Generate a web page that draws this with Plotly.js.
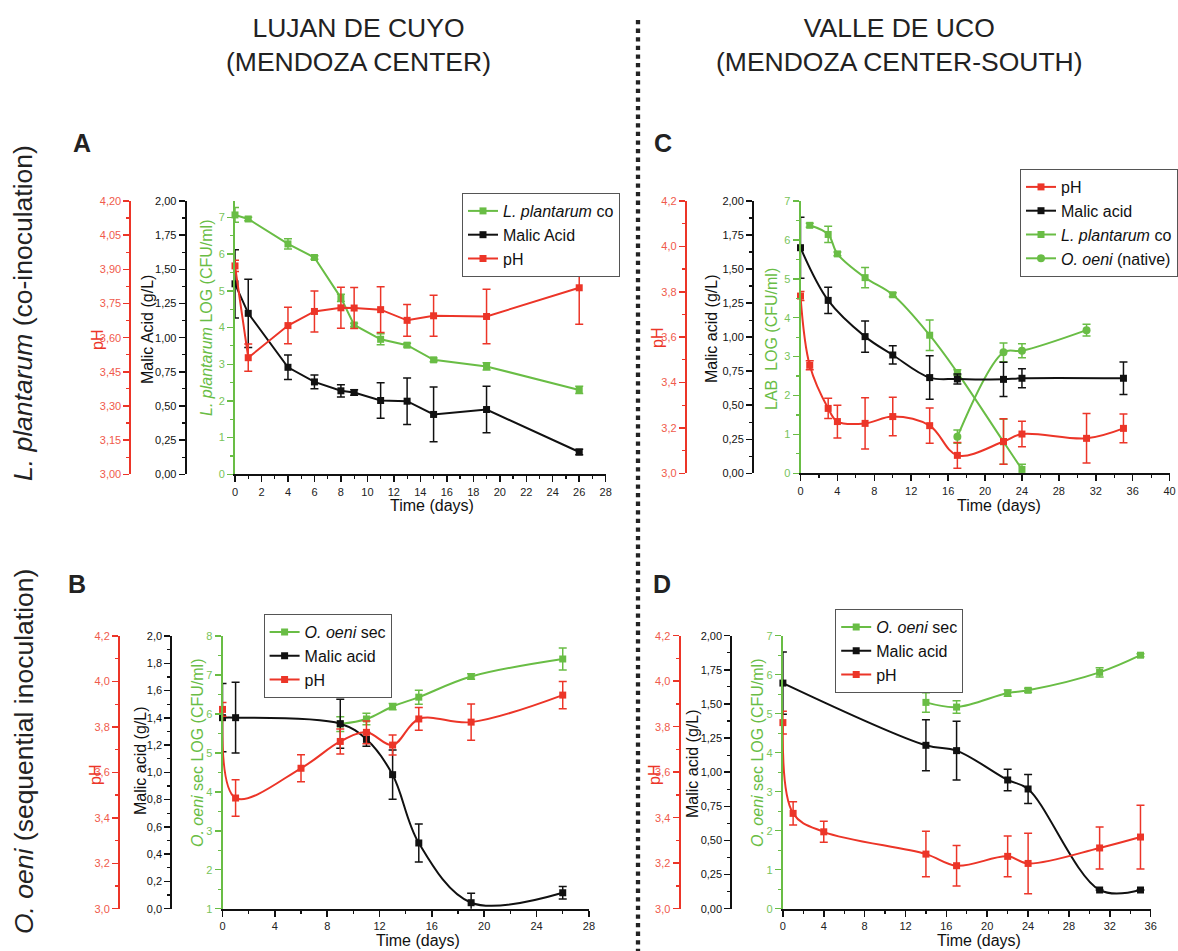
<!DOCTYPE html>
<html><head><meta charset="utf-8">
<script src="https://cdn.plot.ly/plotly-3.0.1.min.js"></script>
<style>html,body{margin:0;padding:0;background:#fff}#chart{width:1178px;height:951px}</style>
</head><body><div id="chart"></div>
<script>
// ---------------- DATA ----------------
// Panel A – Lujan de Cuyo, L. plantarum co-inoculation
const daysA = [0, 1, 4, 6, 8, 9, 11, 13, 15, 19, 26];
const lpA = [7.07, 6.96, 6.28, 5.91, 4.81, 4.07, 3.68, 3.52, 3.12, 2.94, 2.30];
const lpAErr = [0.2, 0.05, 0.14, 0.05, 0.1, 0.05, 0.15, 0.05, 0.05, 0.1, 0.1];
const malicA = [1.394, 1.178, 0.783, 0.676, 0.611, 0.599, 0.540, 0.535, 0.438, 0.474, 0.163];
const malicAErr = [0.25, 0.25, 0.09, 0.05, 0.045, 0.02, 0.13, 0.17, 0.2, 0.17, 0.02];
const phA = [3.915, 3.512, 3.653, 3.715, 3.731, 3.730, 3.723, 3.676, 3.696, 3.693, 3.819];
const phAErr = [0.025, 0.06, 0.08, 0.09, 0.09, 0.09, 0.1, 0.07, 0.09, 0.12, 0.16];

// Panel C – Valle de Uco, L. plantarum co-inoculation
const lpDaysC = [1, 3, 4, 7, 10, 14, 17, 22, 24];
const lpC = [6.375, 6.14, 5.64, 5.03, 4.59, 3.55, 2.59, 0.81, 0.10];
const lpCErr = [0.05, 0.21, 0.05, 0.26, 0.05, 0.39, 0.07, 0.58, 0.13];
const ooDaysC = [17, 22, 24, 31];
const ooC = [0.94, 3.11, 3.15, 3.68];
const ooCErr = [0.17, 0.24, 0.18, 0.15];
const malicDaysC = [0, 3, 7, 10, 14, 17, 22, 24, 35];
const malicC = [1.657, 1.27, 1.004, 0.869, 0.703, 0.693, 0.690, 0.698, 0.698];
const malicCErr = [0.224, 0.097, 0.115, 0.067, 0.16, 0.037, 0.125, 0.069, 0.12];
const phDaysC = [0, 1, 3, 4, 7, 10, 14, 17, 22, 24, 31, 35];
const phC = [3.781, 3.476, 3.286, 3.228, 3.22, 3.25, 3.21, 3.079, 3.14, 3.173, 3.154, 3.198];
const phCErr = [0.02, 0.02, 0.045, 0.072, 0.113, 0.085, 0.078, 0.057, 0.1, 0.056, 0.109, 0.063];

// Panel B – Lujan de Cuyo, O. oeni sequential inoculation
const ooDaysB = [9, 11, 13, 15, 19, 26];
const ooB = [5.74, 5.87, 6.19, 6.43, 6.96, 7.41];
const ooBErr = [0.19, 0.15, 0.08, 0.18, 0.07, 0.28];
const malicDaysB = [0, 1, 9, 11, 13, 15, 19, 26];
const malicB = [1.401, 1.401, 1.357, 1.242, 0.983, 0.482, 0.044, 0.117];
const malicBErr = [0.25, 0.26, 0.18, 0.05, 0.18, 0.14, 0.07, 0.045];
const phDaysB = [0, 1, 6, 9, 11, 13, 15, 19, 26];
const phB = [3.877, 3.487, 3.618, 3.736, 3.776, 3.72, 3.835, 3.821, 3.94];
const phBErr = [0.03, 0.08, 0.059, 0.055, 0.05, 0.044, 0.05, 0.08, 0.06];

// Panel D – Valle de Uco, O. oeni sequential inoculation
const ooDaysD = [14, 17, 22, 24, 31, 35];
const ooD = [5.29, 5.17, 5.53, 5.60, 6.06, 6.50];
const ooDErr = [0.25, 0.16, 0.08, 0.05, 0.12, 0.04];
const malicDaysD = [0, 14, 17, 22, 24, 31, 35];
const malicD = [1.653, 1.197, 1.158, 0.943, 0.877, 0.137, 0.137];
const malicDErr = [0.228, 0.187, 0.215, 0.079, 0.107, 0, 0];
const phDaysD = [0, 1, 4, 14, 17, 22, 24, 31, 35];
const phD = [3.818, 3.419, 3.338, 3.240, 3.189, 3.23, 3.199, 3.267, 3.315];
const phDErr = [0.05, 0.051, 0.046, 0.1, 0.089, 0.09, 0.133, 0.092, 0.14];

// ---------------- STYLE ----------------
const W = 1178, H = 951;
const FONT = 'Liberation Sans, Arial, Helvetica, sans-serif';
const RED = '#ec3528', RED_L = '#f05a4c';
const GREEN = '#69bd45', GREEN_L = '#78c45a';
const BLACK = '#111111';
const fx = p => p / W;
const fy = p => 1 - p / H;

const G = {
  A: {x0: 235, x1: 605.7, yTop: 201, yBot: 474.3, phX: 130.4, malX: 185.7},
  C: {x0: 800.5, x1: 1169.6, yTop: 201, yBot: 473.3, phX: 685.8, malX: 753},
  B: {x0: 222.5, x1: 588.9, yTop: 636, yBot: 908.7, phX: 119, malX: 171.3},
  D: {x0: 782.9, x1: 1150.7, yTop: 635.7, yBot: 908.7, phX: 679.6, malX: 731.3}
};

function trace(x, y, err, name, color, xa, ya, legend, shape, symbol, showlegend) {
  return {
    type: 'scatter', mode: 'lines+markers', x: x, y: y, name: name,
    xaxis: xa, yaxis: ya, legend: legend, showlegend: showlegend !== false,
    cliponaxis: false,
    line: {color: color, width: 2, shape: shape, smoothing: 1},
    marker: {color: color, size: symbol === 'circle' ? 8 : 7, symbol: symbol || 'square'},
    error_y: {type: 'data', array: err, visible: true, color: color, thickness: 1.5, width: 4}
  };
}

function xax(g, range, dtick, minor, anchor) {
  return {
    domain: [fx(g.x0), fx(g.x1)], range: range, anchor: anchor,
    showline: true, linecolor: BLACK, linewidth: 2, ticks: 'outside', ticklen: 6, tickwidth: 1.5, tickcolor: BLACK,
    dtick: dtick, tick0: 0, showgrid: false, zeroline: false,
    tickfont: {size: 11, color: '#222', family: FONT},
    minor: {dtick: minor, tick0: 0, ticks: 'outside', ticklen: 3, tickwidth: 1.2, tickcolor: BLACK, showgrid: false}
  };
}

function yax(g, o) {
  const a = {
    domain: [fy(g.yBot), fy(g.yTop)], range: o.range,
    showline: true, linecolor: o.color, linewidth: 2, ticks: 'outside', ticklen: 6, tickwidth: 1.5, tickcolor: o.color,
    dtick: o.dtick, tick0: o.range[0], tickformat: o.fmt || '', showgrid: false, zeroline: false, side: 'left',
    tickfont: {size: 11, color: o.labelColor || o.color, family: FONT},
    minor: {dtick: o.minor, tick0: o.range[0], ticks: 'outside', ticklen: 3, tickwidth: 1.2, tickcolor: o.color, showgrid: false}
  };
  if (o.overlaying) { a.overlaying = o.overlaying; a.anchor = 'free'; a.position = fx(o.pos); }
  else { a.anchor = o.anchor; }
  return a;
}

function legendBox(x, y, xanchor) {
  return {x: x, y: y, xanchor: xanchor || 'left', yanchor: 'top', bgcolor: 'white', bordercolor: '#555',
    borderwidth: 1, font: {size: 16, color: BLACK, family: FONT}, itemwidth: 30, tracegroupgap: 0, traceorder: 'normal'};
}

// ---------------- TRACES ----------------
const data = [
  // A
  trace(daysA, lpA, lpAErr, '<i>L. plantarum</i> co', GREEN, 'x', 'y', 'legend', 'linear'),
  trace(daysA, malicA, malicAErr, 'Malic Acid', BLACK, 'x', 'y2', 'legend', 'linear'),
  trace(daysA, phA, phAErr, 'pH', RED, 'x', 'y3', 'legend', 'linear'),
  // C
  trace(phDaysC, phC, phCErr, 'pH', RED, 'x2', 'y6', 'legend2', 'spline'),
  trace(malicDaysC, malicC, malicCErr, 'Malic acid', BLACK, 'x2', 'y5', 'legend2', 'spline'),
  trace(lpDaysC, lpC, lpCErr, '<i>L. plantarum</i> co', GREEN, 'x2', 'y4', 'legend2', 'spline'),
  trace(ooDaysC, ooC, ooCErr, '<i>O. oeni</i> (native)', GREEN, 'x2', 'y4', 'legend2', 'spline', 'circle'),
  // B
  trace(ooDaysB, ooB, ooBErr, '<i>O. oeni</i> sec', GREEN, 'x3', 'y7', 'legend3', 'spline'),
  trace(malicDaysB, malicB, malicBErr, 'Malic acid', BLACK, 'x3', 'y8', 'legend3', 'spline'),
  trace(phDaysB, phB, phBErr, 'pH', RED, 'x3', 'y9', 'legend3', 'spline'),
  // D
  trace(ooDaysD, ooD, ooDErr, '<i>O. oeni</i> sec', GREEN, 'x4', 'y10', 'legend4', 'spline'),
  trace(malicDaysD, malicD, malicDErr, 'Malic acid', BLACK, 'x4', 'y11', 'legend4', 'spline'),
  trace(phDaysD, phD, phDErr, 'pH', RED, 'x4', 'y12', 'legend4', 'spline')
];

// ---------------- ANNOTATIONS ----------------
function ann(text, x, y, o) {
  o = o || {};
  return {text: text, xref: 'paper', yref: 'paper', x: fx(x), y: fy(y), xanchor: 'center', yanchor: 'middle',
    showarrow: false, textangle: o.angle || 0,
    font: {size: o.size || 16, color: o.color || BLACK, family: FONT}};
}
const annotations = [
  ann('LUJAN DE CUYO<br>(MENDOZA CENTER)', 358, 45, {size: 26.5, color: '#222'}),
  ann('VALLE DE UCO<br>(MENDOZA CENTER-SOUTH)', 899, 45, {size: 26.5, color: '#222'}),
  ann('<i>L. plantarum</i> (co-inoculation)', 23, 313, {size: 26.5, color: '#222', angle: -90}),
  ann('<i>O. oeni</i> (sequential inoculation)', 24, 752, {size: 26.5, color: '#222', angle: -90}),
  ann('<b>A</b>', 82, 143, {size: 25, color: '#222'}),
  ann('<b>B</b>', 77, 584, {size: 25, color: '#222'}),
  ann('<b>C</b>', 663, 143, {size: 25, color: '#222'}),
  ann('<b>D</b>', 662, 584, {size: 25, color: '#222'}),
  // axis titles A
  ann('pH', 97, 340, {color: RED, angle: -90}),
  ann('Malic Acid (g/L)', 147, 330, {angle: -90}),
  ann('<i>L. plantarum</i> LOG (CFU/ml)', 207, 318, {color: GREEN, angle: -90}),
  ann('Time (days)', 432, 505),
  // C
  ann('pH', 657, 338, {color: RED, angle: -90}),
  ann('Malic acid (g/L)', 711, 329, {angle: -90}),
  ann('LAB\u00A0 LOG (CFU/ml)', 771, 339, {color: GREEN, angle: -90}),
  ann('Time (days)', 999, 505),
  // B
  ann('pH', 95, 775, {color: RED, angle: -90}),
  ann('Malic acid (g/L)', 140, 761, {angle: -90}),
  ann('<i>O. oeni</i> sec LOG (CFU/ml)', 197, 753, {color: GREEN, angle: -90}),
  ann('Time (days)', 418, 940),
  // D
  ann('pH', 654, 775, {color: RED, angle: -90}),
  ann('Malic acid (g/L)', 692, 764, {angle: -90}),
  ann('<i>O. oeni</i> sec LOG (CFU/ml)', 757, 753, {color: GREEN, angle: -90}),
  ann('Time (days)', 979, 940)
];

// ---------------- LAYOUT ----------------
const layout = {
  width: W, height: H, margin: {l: 0, r: 0, t: 0, b: 0},
  paper_bgcolor: 'white', plot_bgcolor: 'rgba(0,0,0,0)',
  separators: ',.', font: {family: FONT, color: BLACK}, hovermode: false,
  // A
  xaxis: xax(G.A, [0, 28], 2, 1, 'y'),
  yaxis: yax(G.A, {anchor: 'x', range: [0, 7.45], dtick: 1, minor: 0.5, color: GREEN, labelColor: GREEN_L}),
  yaxis2: yax(G.A, {overlaying: 'y', pos: G.A.malX, range: [0, 2], dtick: 0.25, minor: 0.125, fmt: '.2f', color: BLACK}),
  yaxis3: yax(G.A, {overlaying: 'y', pos: G.A.phX, range: [3, 4.2], dtick: 0.15, minor: 0.075, fmt: '.2f', color: RED, labelColor: RED_L}),
  // C
  xaxis2: xax(G.C, [0, 40], 4, 2, 'y4'),
  yaxis4: yax(G.C, {anchor: 'x2', range: [0, 7], dtick: 1, minor: 0.5, color: GREEN, labelColor: GREEN_L}),
  yaxis5: yax(G.C, {overlaying: 'y4', pos: G.C.malX, range: [0, 2], dtick: 0.25, minor: 0.125, fmt: '.2f', color: BLACK}),
  yaxis6: yax(G.C, {overlaying: 'y4', pos: G.C.phX, range: [3, 4.2], dtick: 0.2, minor: 0.1, fmt: '.1f', color: RED, labelColor: RED_L}),
  // B
  xaxis3: xax(G.B, [0, 28], 4, 2, 'y7'),
  yaxis7: yax(G.B, {anchor: 'x3', range: [1, 8], dtick: 1, minor: 0.5, color: GREEN, labelColor: GREEN_L}),
  yaxis8: yax(G.B, {overlaying: 'y7', pos: G.B.malX, range: [0, 2], dtick: 0.2, minor: 0.1, fmt: '.1f', color: BLACK}),
  yaxis9: yax(G.B, {overlaying: 'y7', pos: G.B.phX, range: [3, 4.2], dtick: 0.2, minor: 0.1, fmt: '.1f', color: RED, labelColor: RED_L}),
  // D
  xaxis4: xax(G.D, [0, 36], 4, 2, 'y10'),
  yaxis10: yax(G.D, {anchor: 'x4', range: [0, 7], dtick: 1, minor: 0.5, color: GREEN, labelColor: GREEN_L}),
  yaxis11: yax(G.D, {overlaying: 'y10', pos: G.D.malX, range: [0, 2], dtick: 0.25, minor: 0.125, fmt: '.2f', color: BLACK}),
  yaxis12: yax(G.D, {overlaying: 'y10', pos: G.D.phX, range: [3, 4.2], dtick: 0.2, minor: 0.1, fmt: '.1f', color: RED, labelColor: RED_L}),
  legend: legendBox(fx(462), fy(193)),
  legend2: legendBox(1, fy(169), 'right'),
  legend3: legendBox(fx(263.6), fy(614)),
  legend4: legendBox(fx(835.2), fy(609)),
  annotations: annotations,
  shapes: [{type: 'line', xref: 'paper', yref: 'paper', x0: fx(638), x1: fx(638), y0: fy(20), y1: 0,
    line: {color: '#222', width: 4.3, dash: 'dot'}}]
};

Plotly.newPlot('chart', data, layout, {displayModeBar: false, staticPlot: true});
</script>
</body></html>
